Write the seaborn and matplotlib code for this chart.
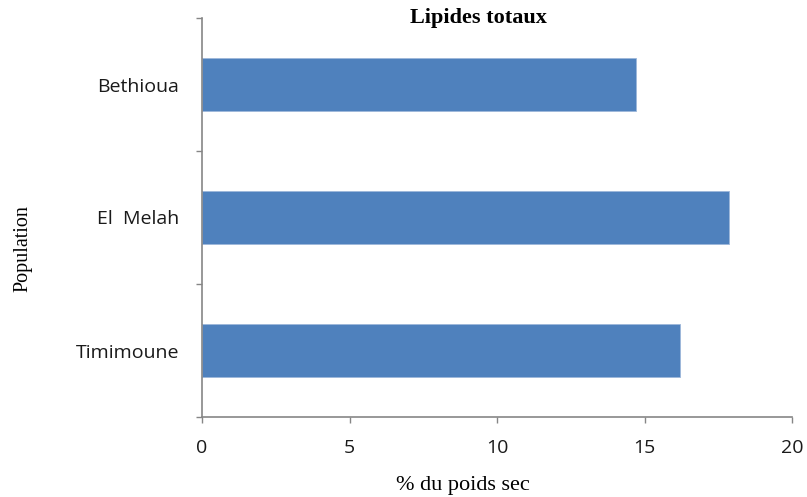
import matplotlib
matplotlib.use("Agg")
import matplotlib.pyplot as plt
import seaborn as sns
import pandas as pd

populations = ["Bethioua", "El  Melah", "Timimoune"]
lipides = [14.7, 17.85, 16.2]
x_ticks = [0, 5, 10, 15, 20]

df = pd.DataFrame({"Population": populations, "Lipides": lipides})

sns.set_theme(style="white")
plt.rcParams["font.family"] = ["Open Sans", "DejaVu Sans"]

W, H = 807, 497
fig = plt.figure(figsize=(W / 100, H / 100), dpi=100)
ax = fig.add_axes([202 / W, 1 - 417 / H, 590 / W, 399 / H])

sns.barplot(data=df, x="Lipides", y="Population", orient="h",
            color="#4F81BD", saturation=1, width=0.4,
            edgecolor="#9DB7DA", linewidth=0.6, ax=ax)

axis_grey = "#868686"
ax.set_xlim(0, 20)
ax.set_ylim(2.5, -0.5)
ax.set_xticks(x_ticks)
ax.set_xticklabels([str(t) for t in x_ticks], fontsize=14, color="#1a1a1a")
ax.set_yticks(range(len(populations)))
ax.set_yticklabels(populations, fontsize=14, color="#1a1a1a")
ax.set_yticks([-0.5, 0.5, 1.5, 2.5], minor=True)
ax.tick_params(axis="y", which="major", length=0, pad=16.5)
ax.tick_params(axis="y", which="minor", length=4, width=1, color=axis_grey,
               direction="out", left=True)
ax.tick_params(axis="x", which="major", length=4, width=1, color=axis_grey,
               direction="out", bottom=True, pad=11.5)
ax.set_xlabel("")
ax.set_ylabel("")

for side in ["top", "right"]:
    ax.spines[side].set_visible(False)
for side in ["left", "bottom"]:
    ax.spines[side].set_color(axis_grey)
    ax.spines[side].set_linewidth(1.2)

serif = ["Liberation Serif", "DejaVu Serif"]
fig.text(478 / W, 1 - 23 / H, "Lipides totaux", ha="center", va="baseline",
         fontsize=16, fontweight="bold", family=serif, color="#000000")
fig.text(463 / W, 1 - 490 / H, "% du poids sec", ha="center", va="baseline",
         fontsize=16, family=serif, color="#000000")
fig.text(23 / W, 1 - 249 / H, "Population", ha="center", va="center",
         rotation=90, fontsize=14.5, family=serif, color="#000000")

fig.savefig("out.png", dpi=100)
